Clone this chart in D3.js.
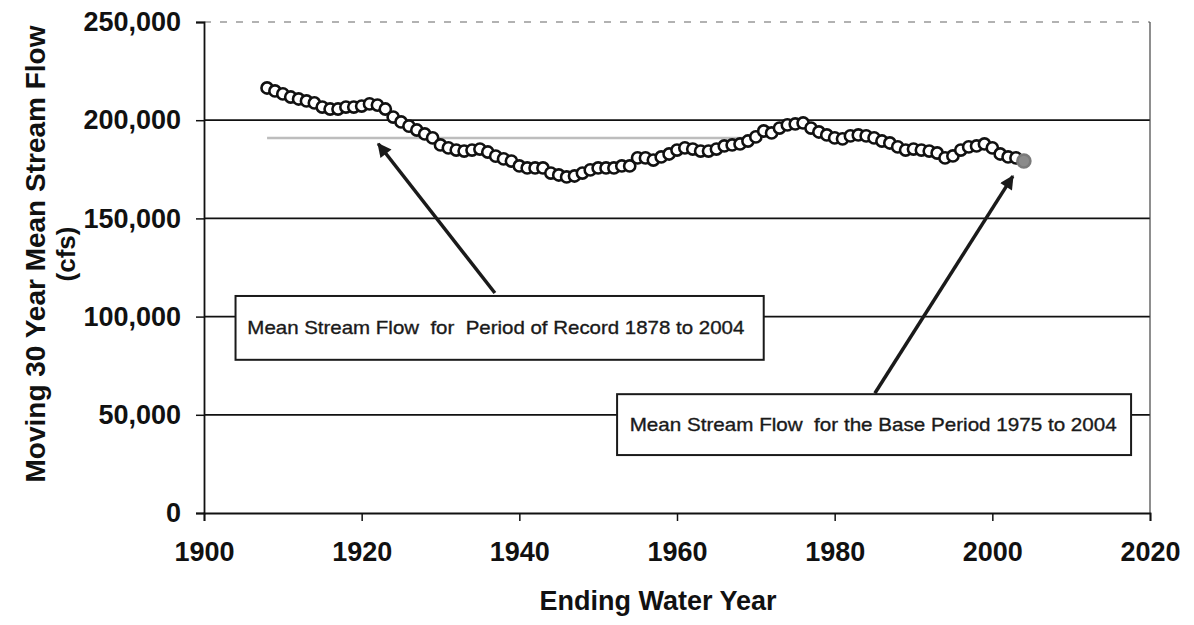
<!DOCTYPE html>
<html>
<head>
<meta charset="utf-8">
<script src="https://cdn.jsdelivr.net/npm/d3@7"></script>
<style>
  body { margin: 0; background: #fff; }
  text { font-family: "Liberation Sans", Arial, sans-serif; }
</style>
</head>
<body>
<div id="container"></div>
<script>
// moving 30 year mean, one value per ending water year starting 1908
const firstYear = 1908;
const flows = [
  216400, 214900, 213400, 211800, 210800, 209800, 208800, 206700, 205700, 205700, // 1908-1917
  206700, 206700, 207200, 208300, 207700, 205700, 201600, 199100, 197000, 195000, // 1918-1927
  193000, 191000, 187400, 185900, 184800, 184300, 184800, 185300, 183800, 181700, // 1928-1937
  180300, 179200, 176700, 175700, 175700, 175700, 173100, 172100, 171100, 171600, // 1938-1947
  173100, 174700, 175700, 175700, 175700, 176700, 176700, 180800, 180800, 179700, // 1948-1957
  181300, 182800, 184800, 185900, 185300, 184300, 184300, 185300, 186900, 187400, // 1958-1967
  187900, 189400, 191500, 194500, 193500, 196000, 197600, 198100, 198600, 196000, // 1968-1977
  194000, 192500, 191000, 190500, 192000, 192500, 192000, 191000, 189400, 188400, // 1978-1987
  186400, 184800, 185300, 184800, 184300, 183300, 180800, 181800, 184800, 186400, // 1988-1997
  186900, 187900, 185900, 182800, 181300, 180800, 179200                          // 1998-2004
];

// mean for the period of record (grey line) and where it is still visible
const recordMean = 191000;
const recordMeanYears = [1908, 1970];

const yTicks = [0, 50000, 100000, 150000, 200000, 250000];
const xTicks = [1900, 1920, 1940, 1960, 1980, 2000, 2020];

const xTitle = "Ending Water Year";
const yTitle = ["Moving 30 Year Mean Stream Flow", "(cfs)"];

const noteRecord = "Mean Stream Flow  for  Period of Record 1878 to 2004";
const noteBase = "Mean Stream Flow  for the Base Period 1975 to 2004";

let width = 1194, height = 625;

let x = d3.scaleLinear().domain([1900, 2020]).range([204, 1150]);
let y = d3.scaleLinear().domain([0, 250000]).range([513, 22]);

let svg = d3.select("#container")
  .append("svg")
  .attr("width", width)
  .attr("height", height);

let data = flows.map(function(v, i) { return { year: firstYear + i, value: v }; });

buildGrid(svg);
buildAxes(svg);
buildTitles(svg);
buildMeanLine(svg);
buildPoints(svg);
buildNotes(svg);

function buildGrid(svg) {
  // horizontal lines; the top one is mostly lost in the scan
  svg.append("g")
    .selectAll("line")
    .data(yTicks.filter(function(d) { return d > 0; }))
    .enter().append("line")
      .attr("x1", x(1900))
      .attr("x2", x(2020))
      .attr("y1", function(d) { return y(d); })
      .attr("y2", function(d) { return y(d); })
      .attr("stroke", function(d) { return d == 250000 ? "#999" : "#111"; })
      .attr("stroke-width", function(d) { return d == 250000 ? 1.5 : 1.7; })
      .attr("stroke-dasharray", function(d) { return d == 250000 ? "7,9" : null; });

  // right edge of the plot area
  svg.append("line")
    .attr("x1", x(2020)).attr("x2", x(2020))
    .attr("y1", y(250000)).attr("y2", y(0))
    .attr("stroke", "#444")
    .attr("stroke-width", 1.2);
}

function buildAxes(svg) {
  let yAxis = d3.axisLeft(y)
    .tickValues(yTicks)
    .tickSize(8)
    .tickPadding(15)
    .tickFormat(d3.format(","));

  let gy = svg.append("g")
    .attr("transform", "translate(" + x(1900) + ",0)")
    .call(yAxis);

  let xAxis = d3.axisBottom(x)
    .tickValues(xTicks)
    .tickSize(8)
    .tickPadding(21)
    .tickFormat(d3.format("d"));

  let gx = svg.append("g")
    .attr("transform", "translate(0," + y(0) + ")")
    .call(xAxis);

  [gy, gx].forEach(function(g) {
    g.select(".domain").attr("stroke", "#111").attr("stroke-width", 1.8);
    g.selectAll(".tick line").attr("stroke", "#111").attr("stroke-width", 1.5);
    g.selectAll(".tick text")
      .attr("fill", "#111")
      .attr("font-size", "27px")
      .attr("font-weight", "bold")
      .style("font-family", "'Liberation Sans', Arial, sans-serif");
  });
}

function buildTitles(svg) {
  svg.append("text")
    .attr("x", 658)
    .attr("y", 601)
    .attr("text-anchor", "middle")
    .attr("dominant-baseline", "central")
    .attr("font-size", "27px")
    .attr("font-weight", "bold")
    .attr("fill", "#111")
    .text(xTitle);

  svg.append("text")
    .attr("transform", "translate(35,254) rotate(-90)")
    .attr("text-anchor", "middle")
    .attr("dominant-baseline", "central")
    .attr("font-size", "28px")
    .attr("font-weight", "bold")
    .attr("fill", "#111")
    .text(yTitle[0]);

  svg.append("text")
    .attr("transform", "translate(66,254) rotate(-90)")
    .attr("text-anchor", "middle")
    .attr("dominant-baseline", "central")
    .attr("font-size", "26px")
    .attr("font-weight", "bold")
    .attr("fill", "#111")
    .text(yTitle[1]);
}

function buildMeanLine(svg) {
  svg.append("line")
    .attr("x1", x(recordMeanYears[0]))
    .attr("x2", x(recordMeanYears[1]))
    .attr("y1", y(recordMean))
    .attr("y2", y(recordMean))
    .attr("stroke", "#bdbdbd")
    .attr("stroke-width", 2.5);
}

function buildPoints(svg) {
  let last = data.length - 1;

  svg.append("g")
    .selectAll("circle")
    .data(data)
    .enter().append("circle")
      .attr("cx", function(d) { return x(d.year); })
      .attr("cy", function(d) { return y(d.value); })
      .attr("r", function(d, i) { return i == last ? 6.5 : 5.6; })
      .attr("fill", function(d, i) { return i == last ? "#8a8a8a" : "#fff"; })
      .attr("stroke", function(d, i) { return i == last ? "#7a7a7a" : "#111"; })
      .attr("stroke-width", 2.6);
}

function buildNotes(svg) {
  let defs = svg.append("defs");
  defs.append("marker")
    .attr("id", "head")
    .attr("viewBox", "0 0 10 10")
    .attr("refX", 9)
    .attr("refY", 5)
    .attr("markerWidth", 5.5)
    .attr("markerHeight", 4)
    .attr("markerUnits", "strokeWidth")
    .attr("orient", "auto")
    .append("path")
      .attr("d", "M0,0 L10,5 L0,10 z")
      .attr("fill", "#1a1a1a");

  // arrows go from the boxes to the record mean line and to the 2004 point
  let arrows = [
    { from: [1936.9, 112000], to: [1922.1, 188000] },
    { from: [1985.1, 61000], to: [2002.6, 171500] }
  ];

  svg.append("g")
    .selectAll("line")
    .data(arrows)
    .enter().append("line")
      .attr("x1", function(d) { return x(d.from[0]); })
      .attr("y1", function(d) { return y(d.from[1]); })
      .attr("x2", function(d) { return x(d.to[0]); })
      .attr("y2", function(d) { return y(d.to[1]); })
      .attr("stroke", "#1a1a1a")
      .attr("stroke-width", 3.5)
      .attr("marker-end", "url(#head)");

  let boxes = [
    { text: noteRecord, x0: 1904, x1: 1971, yTop: 110500, yBot: 78000, tx: 1905.5, tl: 497 },
    { text: noteBase, x0: 1952.4, x1: 2017.6, yTop: 60500, yBot: 29500, tx: 1954, tl: 487 }
  ];

  let g = svg.append("g")
    .selectAll("g")
    .data(boxes)
    .enter().append("g");

  g.append("rect")
    .attr("x", function(d) { return x(d.x0); })
    .attr("y", function(d) { return y(d.yTop); })
    .attr("width", function(d) { return x(d.x1) - x(d.x0); })
    .attr("height", function(d) { return y(d.yBot) - y(d.yTop); })
    .attr("fill", "#fff")
    .attr("stroke", "#1a1a1a")
    .attr("stroke-width", 2);

  // keep the double spaces of the original labels
  g.append("text")
    .attr("x", function(d) { return x(d.tx); })
    .attr("y", function(d) { return (y(d.yTop) + y(d.yBot)) / 2; })
    .attr("dominant-baseline", "central")
    .attr("font-size", "19px")
    .attr("fill", "#1a1a1a")
    .attr("stroke", "#1a1a1a")
    .attr("stroke-width", 0.35)
    .attr("textLength", function(d) { return d.tl; })
    .attr("lengthAdjust", "spacingAndGlyphs")
    .style("white-space", "pre")
    .text(function(d) { return d.text; });
}
</script>
</body>
</html>
